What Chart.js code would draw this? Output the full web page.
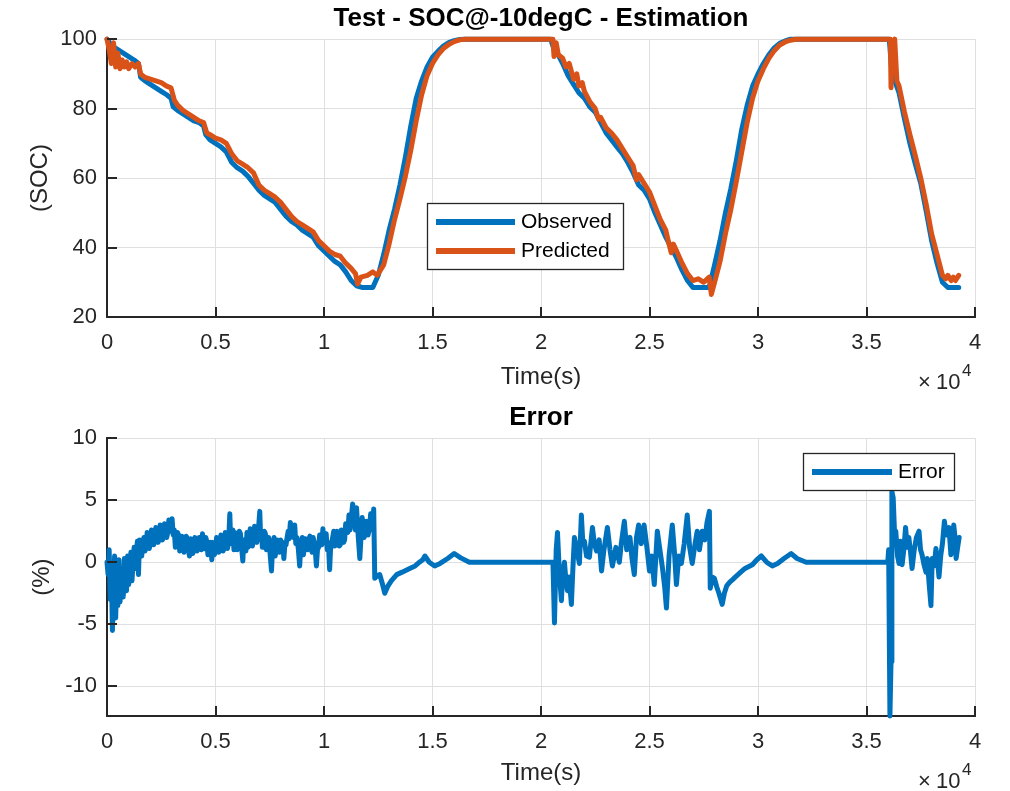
<!DOCTYPE html>
<html>
<head>
<meta charset="utf-8">
<script src="https://cdn.jsdelivr.net/npm/chart.js@4.4.0/dist/chart.umd.min.js"></script>
<style>
  body { margin: 0; background: #fff; }
  #wrap { position: relative; width: 1010px; height: 791px; }
  canvas { position: absolute; left: 0; }
</style>
</head>
<body>
<div id="wrap">
  <canvas id="socChart" width="1010" height="395" style="top:0px"></canvas>
  <canvas id="errChart" width="1010" height="396" style="top:395px"></canvas>
</div>
<script>
// data (time in s)
const obsTime = [0,250,500,750,1000,1250,1450,1550,1750,2000,2250,2500,2750,2950,3050,3250,3500,3750,4000,4250,4450,4550,4750,5000,5250,5500,5750,6000,6250,6500,6750,7000,7250,7500,7750,8000,8250,8500,8750,9000,9250,9500,9750,10000,10250,10500,10750,11000,11250,11500,11750,12250,12500,12750,13000,13250,13500,13750,14000,14250,14500,14750,15000,15250,15500,15750,16000,16250,16500,20450,20600,20750,21000,21250,21500,21750,22000,22250,22500,22750,23000,23250,23500,23750,24000,24250,24500,24750,25000,25250,25500,25750,26000,26250,26500,26750,27000,27750,28000,28250,28500,28750,29000,29250,29500,29750,30000,30250,30500,30750,31000,31250,31500,36050,36150,36250,36500,36750,37000,37250,37500,37750,38000,38250,38500,38750,39250];
const observed = [100,98,97,96,95,94,93,89,88,87,86,85,84,83,80.5,79.5,78.5,77.5,76.5,76,75,72.5,71,70,69,67.5,64.5,63,62,60.5,58.5,56.5,55,54,53,51,49,47.5,46.5,45,44,43,40.5,39,37.5,36,35,33,30.5,29,28.5,28.5,32,38,45,51,58,66,75,83,88,92,94.8,96.5,98,99,99.6,99.9,100,100,97,96,93,89.5,87,84.5,83,80.5,79,76,73,71,69,67,64.5,61.5,58,56.5,54,50,46.5,43,40,37,33.5,30.5,28.5,28.5,35,42,50,57,65,74,81,86.5,90,93,95.5,97.5,98.8,99.5,100,100,92,89,84.5,77,70,64,58.5,50.5,42,35.5,30,28.5,28.5];

const predTime = [0,100,200,300,400,500,600,700,800,900,1000,1150,1300,1450,1550,1750,2000,2250,2500,2750,2950,3100,3250,3500,3750,4000,4250,4450,4600,4750,5000,5250,5500,5750,6000,6250,6500,6750,7000,7250,7500,7750,8000,8250,8500,8750,9000,9250,9500,9750,10000,10250,10500,10750,11000,11250,11450,11550,11700,12000,12250,12450,12750,13000,13250,13500,13750,14000,14250,14500,14750,15000,15250,15500,15750,16000,16250,16500,20550,20600,20700,20800,21000,21150,21300,21500,21650,21750,21900,22000,22250,22500,22650,22750,23000,23250,23500,23750,24000,24250,24400,24500,24750,25000,25250,25500,25750,25900,26000,26100,26250,26500,26750,27000,27250,27500,27750,27850,28000,28250,28500,28750,29000,29250,29500,29750,30000,30250,30500,30750,31000,31250,31500,31750,36100,36130,36200,36300,36400,36500,36750,37000,37250,37500,37750,38000,38250,38500,38650,38750,38900,39000,39100,39250];
const predicted = [100,97,93,99,92,96,91.5,94,92,93.5,91.5,93,92,93,90,89,88.5,88,87.5,86.5,86,82.5,81,79.5,78.5,77.5,76.5,76,73,72.5,71.5,71,70,67,65,64,63,61.5,58,56.5,55.5,54.5,53,51,49,47.5,46.5,45.5,44.5,42,40.5,39,38,37.5,35.5,34,32.5,29.5,31.5,32,33,32,35,41,48,54,60.5,68,76.5,84,89.5,93,95.5,97.3,98.5,99.3,99.8,100,100,95,99,95.5,94.5,92,93,88.5,90,86.5,87.5,85,82,80,77,77.5,74.5,73,71,68.5,66,63.5,59.5,61,58.5,56,52,48,45,41,38.5,41,39,35.5,32.5,30.5,31,30,31.5,26.5,30,36,44,51,59,67.5,76,83,88,91.5,94.5,96.7,98.3,99.2,99.7,100,100,86,99,100,88,86.5,79,72.5,66.5,60,52.5,44,38,32,31,32,30.5,31.5,30.5,32];

const errTime = [0,50,100,150,200,250,300,350,400,450,500,550,600,700,750,800,900,950,1000,1100,1150,1250,1300,1400,1450,1500,1550,1600,1650,1700,1750,1800,1850,1900,1950,2000,2050,2100,2150,2200,2250,2300,2350,2400,2450,2500,2550,2600,2650,2700,2750,2800,2850,2900,2950,3000,3050,3100,3150,3200,3250,3300,3350,3400,3450,3500,3550,3600,3650,3700,3750,3800,3850,3900,3950,4000,4050,4100,4150,4200,4250,4300,4350,4400,4450,4500,4550,4600,4650,4700,4770,4830,4870,4900,4950,5000,5050,5100,5150,5200,5250,5300,5350,5400,5450,5500,5550,5600,5660,5700,5750,5800,5850,5900,5950,6000,6050,6100,6150,6200,6260,6300,6350,6400,6450,6500,6550,6600,6650,6700,6750,6800,6850,6900,6950,7040,7080,7120,7160,7200,7250,7300,7350,7400,7450,7500,7580,7620,7650,7700,7750,7800,7850,7900,7950,8000,8050,8100,8150,8200,8250,8300,8350,8400,8450,8500,8550,8600,8650,8700,8750,8820,8880,8920,8950,9000,9050,9100,9150,9200,9250,9300,9350,9400,9450,9500,9550,9600,9650,9700,9750,9800,9850,9900,9950,10000,10050,10100,10150,10200,10260,10300,10350,10400,10450,10500,10550,10600,10650,10700,10750,10800,10850,10900,10950,11000,11050,11100,11150,11200,11250,11320,11400,11450,11500,11580,11650,11720,11760,11800,11850,11900,11960,12030,12100,12150,12200,12250,12290,12340,12450,12570,12700,12800,12950,13100,13350,13600,13950,14200,14400,14550,14650,14850,15100,15350,15700,16000,16300,16700,20550,20620,20700,20760,20850,20940,21000,21080,21150,21220,21300,21400,21470,21540,21650,21770,21860,21930,22000,22100,22230,22370,22460,22560,22680,22790,22900,23060,23180,23290,23450,23610,23700,23840,23950,24100,24200,24300,24400,24500,24620,24750,24880,25000,25100,25220,25360,25480,25600,25700,25780,25900,26050,26150,26240,26350,26470,26600,26740,26850,26970,27100,27200,27300,27430,27550,27650,27760,27800,27900,27990,28100,28200,28350,28450,28560,28700,28830,28950,29140,29400,29740,29950,30150,30400,30660,30900,31200,31530,31800,32220,35980,36020,36080,36130,36170,36230,36300,36350,36430,36500,36570,36640,36720,36800,36880,36950,37030,37100,37200,37300,37420,37490,37560,37650,37740,37800,37880,37970,38030,38120,38200,38280,38340,38420,38500,38590,38680,38800,38890,38950,39020,39080,39130,39200,39270];
const errValue = [0,-1,1.0,-3,-0.5,-5.5,-2,0.5,-4.5,-1,-3.5,0.2,-3.2,-0.5,-2.8,0.3,-2.3,0.5,-1.8,0.8,-1.5,1.2,-0.5,1.7,-1.0,1.8,0.9,0.5,1.6,2.0,0.9,1.2,2.4,2.2,1.1,1.5,2.6,2.4,1.4,1.7,2.8,2.6,1.6,1.8,3.0,2.7,1.8,2.0,3.1,2.9,2.0,2.4,3.4,3.2,2.5,3.5,2.2,2.6,1.2,1.5,2.4,2.2,0.9,1.0,2.1,1.8,0.8,1.2,2.1,1.9,1.0,0.5,1.9,1.5,0.7,1.0,2.0,1.8,0.9,1.2,2.0,1.6,1.0,2.3,1.4,1.1,2.0,1.7,0.6,0.9,1.6,0.2,1.6,1.4,0.6,1.0,2.0,1.8,0.8,1.3,2.2,2.0,0.9,1.2,2.4,2.2,1.1,1.5,3.9,1.5,2.0,2.6,1.0,2.4,2.2,1.0,1.4,2.5,2.3,1.2,0.1,1.8,1.6,0.9,2.4,1.2,1.5,2.7,2.5,1.3,1.8,2.9,2.7,1.6,2.0,4.1,2.0,2.5,1.2,1.5,2.5,2.3,1.0,1.2,2.0,1.0,-0.7,0.8,1.5,2.0,0.5,1.0,1.8,1.2,0.8,1.8,1.2,1.6,0.3,1.5,1.4,2.0,2.5,1.9,3.2,2.2,2.8,2.0,3.0,1.5,2.0,1.0,-0.3,1.0,1.5,2.0,0.6,1.2,1.9,1.4,1.0,1.8,2.1,1.5,0.8,2.0,1.6,0.9,-0.3,1.0,1.2,2.2,2.0,1.4,2.7,1.6,1.8,2.3,1.0,1.6,-0.6,1.0,1.5,2.0,2.5,1.3,1.6,2.5,2.3,1.3,1.4,2.6,2.5,1.6,1.8,3.1,3.0,2.4,3.8,2.6,3.4,4.7,3.5,2.6,4.4,2.0,0.3,2.5,3.6,3.0,2.0,2.4,3.3,2.2,2.8,3.9,3.5,2.6,4.3,-1.3,-1.1,-1.0,-1.8,-2.5,-1.9,-1.5,-1.0,-0.8,-0.5,-0.3,0,0.2,0.5,0.0,-0.3,-0.1,0.3,0.7,0.35,0,0,-4.9,1.0,2.4,-1.0,-3.1,-1.0,0,-1.5,-2.3,-1.2,-3.4,-0.5,2.0,1.0,-0.1,3.8,1.5,1.7,0.5,0.4,2.8,1.5,0.9,1.8,-0.7,1.0,2.8,1.0,-0.3,1.2,0,1.5,3.3,1.0,2.0,0.2,-1.0,2.0,3.0,1.5,3.0,1.2,-0.7,0.5,-1.8,2.5,1.0,-0.5,-2.0,-3.7,0.5,3.0,0.8,-1.8,0.5,-0.1,1.5,3.8,1.2,-0.1,1.5,2.5,1.0,2.5,1.8,3.2,4.1,-2.1,-1.2,-1.3,-2.0,-2.5,-3.4,-2.5,-1.9,-1.6,-1.4,-1.2,-0.9,-0.5,-0.2,0.2,0.5,0.0,-0.3,-0.1,0.3,0.7,0.3,0,0,1.0,-12.4,-8,5.7,5.2,2.0,2.5,0.5,-0.1,1.7,-0.2,1.0,2.8,1.2,2.0,0.8,-0.5,1.0,2.0,2.5,1.0,0.6,-0.2,-0.8,0.3,-1.6,-3.5,0.3,-0.3,1.1,0.0,-1.2,0.5,1.5,3.3,2.2,2.8,0.6,1.5,3.0,2.0,0.3,1.2,2.0];

const xTickStep = 5000;
const socTicks = [20, 40, 60, 80, 100];
const errTicks = [-10, -5, 0, 5, 10];

const FONT = "'Liberation Sans', Arial, sans-serif";
const AXIS = '#262626';
const BLUE = '#0072BD';
const ORANGE = '#D95319';

const pairs = (xs, ys) => xs.map((x, i) => ({ x: x, y: ys[i] }));

// ticks drawn inward like matlab
const innerTicks = {
  id: 'innerTicks',
  afterDraw(chart) {
    const { ctx, chartArea, scales } = chart;
    ctx.save();
    ctx.strokeStyle = AXIS;
    ctx.lineWidth = 2;
    ctx.beginPath();
    scales.x.ticks.forEach(t => {
      const px = Math.round(scales.x.getPixelForValue(t.value));
      ctx.moveTo(px, chartArea.bottom);
      ctx.lineTo(px, chartArea.bottom - 10);
    });
    scales.y.ticks.forEach(t => {
      const py = Math.round(scales.y.getPixelForValue(t.value));
      ctx.moveTo(chartArea.left, py);
      ctx.lineTo(chartArea.left + 10, py);
    });
    ctx.stroke();
    ctx.restore();
  }
};

// boxed legend + x10^4 exponent
const boxLegend = {
  id: 'boxLegend',
  afterDraw(chart, args, o) {
    const ctx = chart.ctx;
    ctx.save();
    ctx.fillStyle = '#fff';
    ctx.fillRect(o.x, o.y, o.w, o.h);
    ctx.strokeStyle = AXIS;
    ctx.lineWidth = 1.3;
    ctx.strokeRect(o.x + 0.5, o.y + 0.5, o.w, o.h);
    ctx.font = '21px ' + FONT;
    ctx.textBaseline = 'middle';
    ctx.lineCap = 'butt';
    chart.data.datasets.forEach((ds, i) => {
      const cy = o.rowY[i];
      ctx.strokeStyle = ds.borderColor;
      ctx.lineWidth = 6;
      ctx.beginPath();
      ctx.moveTo(o.x + 9, cy);
      ctx.lineTo(o.x + 9 + o.lineLen, cy);
      ctx.stroke();
      ctx.fillStyle = '#000';
      ctx.fillText(ds.label, o.x + 15 + o.lineLen, cy);
    });
    // exponent label
    ctx.fillStyle = AXIS;
    ctx.textBaseline = 'alphabetic';
    ctx.font = '22px ' + FONT;
    ctx.fillText('\u00d7', 918, o.expY);
    ctx.fillText('10', 936, o.expY);
    ctx.font = '17px ' + FONT;
    ctx.fillText('4', 962, o.expY - 13);
    ctx.restore();
  }
};

function makeOptions(cfg) {
  return {
    responsive: false,
    animation: false,
    layout: { padding: { left: 0, right: 35, top: 0, bottom: 0 } },
    plugins: {
      legend: { display: false },
      tooltip: { enabled: false },
      title: {
        display: true, text: cfg.title, color: '#000', fullSize: false,
        font: { family: FONT, size: 26, weight: 'bold' },
        padding: { top: cfg.titleTop, bottom: cfg.titleBottom }
      },
      boxLegend: cfg.legend
    },
    scales: {
      x: {
        type: 'linear', min: 0, max: 40000,
        afterFit: s => { s.height = cfg.xHeight; },
        ticks: {
          stepSize: xTickStep, autoSkip: false, maxRotation: 0, padding: 13,
          color: AXIS, font: { family: FONT, size: 22 },
          callback: v => v / 10000
        },
        grid: { color: '#dfdfdf', drawTicks: false },
        border: { display: true, color: AXIS, width: 2 },
        title: {
          display: true, text: 'Time(s)', color: AXIS,
          font: { family: FONT, size: 24 }, padding: { top: 0, bottom: 3 }
        }
      },
      y: {
        min: cfg.yMin, max: cfg.yMax,
        afterFit: s => { s.width = 107; },
        afterBuildTicks: s => { s.ticks = cfg.yTicks.map(v => ({ value: v })); },
        ticks: {
          padding: 10, color: AXIS, font: { family: FONT, size: 22 }
        },
        grid: { color: '#dfdfdf', drawTicks: false },
        border: { display: true, color: AXIS, width: 2 },
        title: {
          display: true, text: cfg.yLabel, color: AXIS,
          font: { family: FONT, size: 24 }, padding: { top: cfg.yTitlePad, bottom: 0 }
        }
      }
    }
  };
}

const lineStyle = { pointRadius: 0, borderWidth: 5, tension: 0, fill: false,
  borderJoinStyle: 'round', borderCapStyle: 'round', clip: 4 };

new Chart(document.getElementById('socChart'), {
  type: 'line',
  data: {
    datasets: [
      Object.assign({ label: 'Observed', data: pairs(obsTime, observed), borderColor: BLUE, order: 2 }, lineStyle),
      Object.assign({ label: 'Predicted', data: pairs(predTime, predicted), borderColor: ORANGE, order: 1 }, lineStyle)
    ]
  },
  options: makeOptions({
    title: 'Test - SOC@-10degC - Estimation', titleTop: 3, titleBottom: 5,
    xHeight: 78, yMin: 20, yMax: 100, yTicks: socTicks, yLabel: '(SOC)', yTitlePad: 26,
    legend: { x: 427, y: 203, w: 196, h: 66, lineLen: 79, rowY: [222, 251], expY: 389 }
  }),
  plugins: [innerTicks, boxLegend]
});

new Chart(document.getElementById('errChart'), {
  type: 'line',
  data: {
    datasets: [
      Object.assign({ label: 'Error', data: pairs(errTime, errValue), borderColor: BLUE }, lineStyle)
    ]
  },
  options: makeOptions({
    title: 'Error', titleTop: 7, titleBottom: 5,
    xHeight: 75, yMin: -12.4, yMax: 10, yTicks: errTicks, yLabel: '(%)', yTitlePad: 28,
    legend: { x: 803, y: 58, w: 151, h: 37, lineLen: 80, rowY: [77], expY: 393 }
  }),
  plugins: [innerTicks, boxLegend]
});
</script>
</body>
</html>
